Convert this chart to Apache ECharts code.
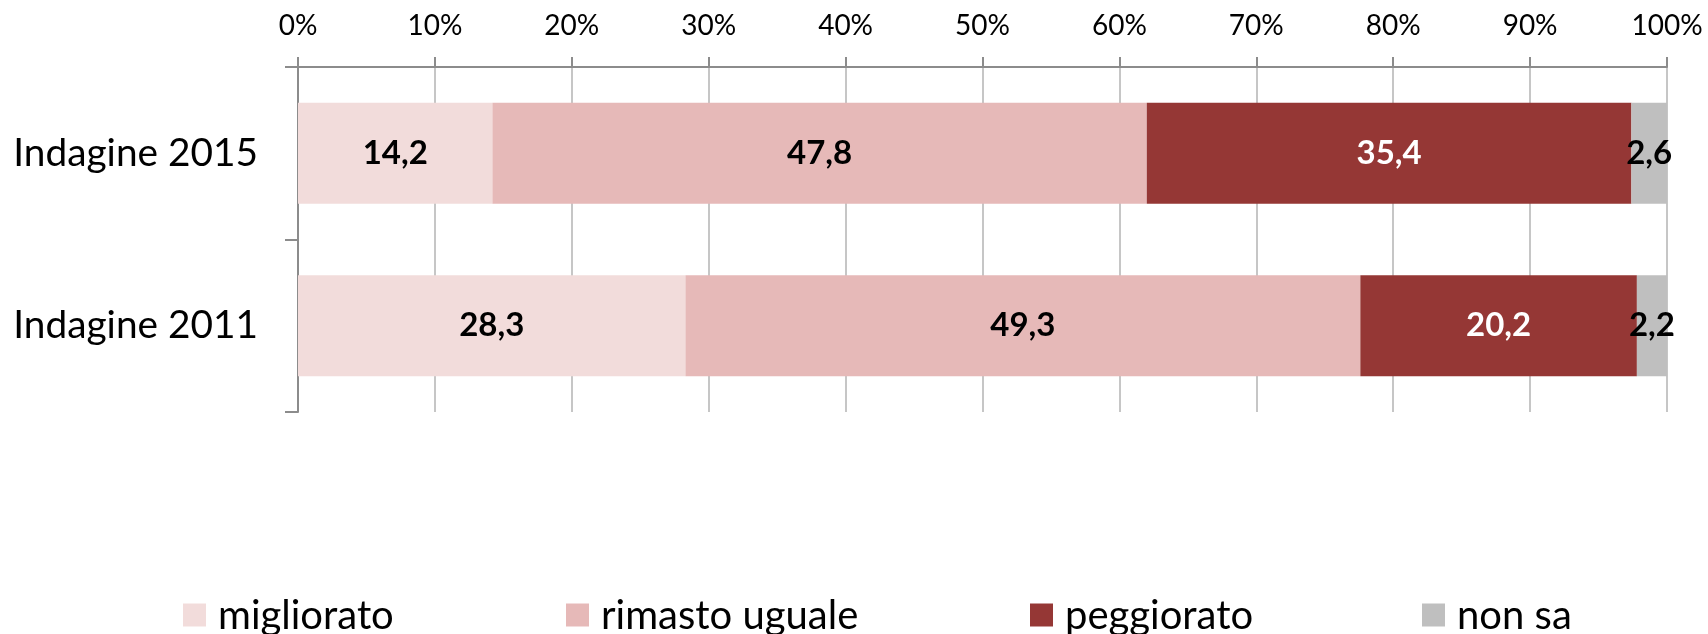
<!DOCTYPE html>
<html>
<head>
<meta charset="utf-8">
<script src="https://cdn.jsdelivr.net/npm/echarts@6/dist/echarts.min.js"></script>
<style>
  html, body { margin: 0; padding: 0; background: #ffffff; }
  #chart { width: 1708px; height: 634px; }
</style>
</head>
<body>
<div id="chart"></div>
<script>
// Survey rounds (top to bottom) and the share of answers per option, in %
const categories = ['Indagine 2015', 'Indagine 2011'];
const seriesNames = ['migliorato', 'rimasto uguale', 'peggiorato', 'non sa'];
const migliorato = [14.2, 28.3];
const rimastoUguale = [47.8, 49.3];
const peggiorato = [35.4, 20.2];
const nonSa = [2.6, 2.2];
const axisTicks = [0, 10, 20, 30, 40, 50, 60, 70, 80, 90, 100];

const FONT = 'Lato, "Open Sans", sans-serif';
const colors = ['#F2DCDB', '#E6B9B8', '#953735', '#BFBFBF'];
const labelColors = ['#000000', '#000000', '#ffffff', '#000000'];
const values = [migliorato, rimastoUguale, peggiorato, nonSa];

const chart = echarts.init(document.getElementById('chart'), null, { renderer: 'canvas' });

const series = seriesNames.map((name, i) => ({
  name,
  type: 'bar',
  stack: 'total',
  barWidth: 101,
  data: values[i],
  itemStyle: { color: colors[i] },
  label: {
    show: true,
    position: 'inside',
    color: labelColors[i],
    fontFamily: FONT,
    fontWeight: 'bold',
    fontSize: 33,
    formatter: p => String(p.value).replace('.', ',')
  },
  emphasis: { disabled: true }
}));

// one legend block per entry, spaced like the original layout;
// the text box is taller than the swatch, so the block top sits above the swatch
const legendLeft = [183, 566, 1030, 1422];
const legends = seriesNames.map((name, i) => ({
  data: [name],
  left: legendLeft[i],
  top: 596,
  padding: 0,
  icon: 'rect',
  itemWidth: 23,
  itemHeight: 23,
  selectedMode: false,
  formatter: '{t|{name}}',
  textStyle: {
    color: '#000000',
    rich: {
      t: {
        fontFamily: FONT,
        fontSize: 40,
        color: '#000000',
        padding: [2, 0, 0, 7]
      }
    }
  }
}));

chart.setOption({
  animation: false,
  backgroundColor: '#ffffff',
  color: colors,
  legend: legends,
  grid: { left: 298, right: 41, top: 67, bottom: 222, containLabel: false },
  xAxis: {
    type: 'value',
    position: 'top',
    min: axisTicks[0],
    max: axisTicks[axisTicks.length - 1],
    interval: axisTicks[1] - axisTicks[0],
    axisLine: { show: true, lineStyle: { color: '#8C8C8C', width: 2 } },
    axisTick: { show: true, length: 10, lineStyle: { color: '#8C8C8C', width: 2 } },
    axisLabel: {
      formatter: '{value}%',
      fontFamily: FONT,
      fontSize: 28,
      color: '#000000',
      margin: 27
    },
    splitLine: { show: true, lineStyle: { color: '#C6C6C6', width: 2 } }
  },
  yAxis: {
    type: 'category',
    inverse: true,
    data: categories,
    axisLine: { show: true, lineStyle: { color: '#8C8C8C', width: 2 } },
    axisTick: { show: true, length: 13, lineStyle: { color: '#8C8C8C', width: 2 } },
    axisLabel: {
      fontFamily: FONT,
      fontSize: 38.8,
      color: '#000000',
      margin: 40
    },
    splitLine: { show: false }
  },
  series
});
</script>
</body>
</html>
